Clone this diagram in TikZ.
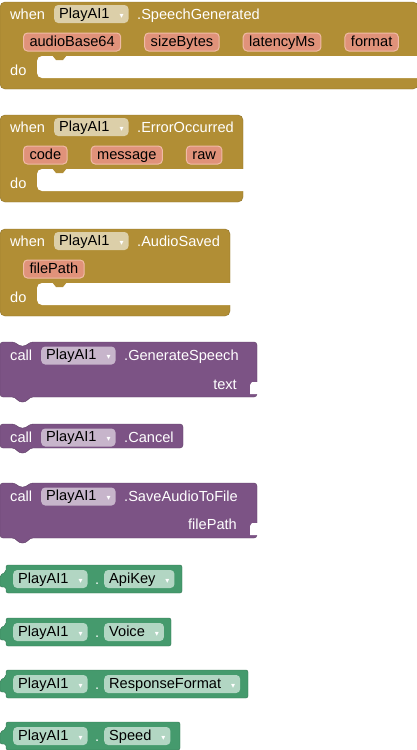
\documentclass[tikz,border=0pt]{standalone}
\usepackage{fontspec}
\setmainfont{Liberation Sans}
\newfontfamily\symb{DejaVu Sans}
\usetikzlibrary{positioning}
\definecolor{evtc}{HTML}{B18E35}
\definecolor{evtline}{HTML}{8E7129}
\definecolor{evtfld}{HTML}{DCCFA9}
\definecolor{parc}{HTML}{E0927A}
\definecolor{parline}{HTML}{F0BBA6}
\definecolor{procc}{HTML}{7C5385}
\definecolor{procline}{HTML}{5F3F66}
\definecolor{procfld}{HTML}{C7B5CB}
\definecolor{getc}{HTML}{459A6D}
\definecolor{getline}{HTML}{347553}
\definecolor{getfld}{HTML}{B2D6C3}
\newcommand\ddarrow{\hspace{10pt}{\symb\fontsize{8}{8}\selectfont\textcolor{white}{▾}}}
\tikzset{
  blk/.style={font=\fontsize{14.6}{16}\selectfont},
  lbl/.style={blk, text=white, inner sep=0pt, anchor=base west},
  fld/.style={blk, rounded corners=4pt, minimum height=18pt, inner xsep=5pt, inner ysep=0pt,
    text height=11pt, text depth=3pt, anchor=west},
  par/.style={blk, fill=parc, draw=parline, line width=1pt, rounded corners=4pt, minimum height=18pt,
    inner xsep=6pt, inner ysep=0pt, text height=11pt, text depth=3pt, anchor=west},
}
\begin{document}
\begin{tikzpicture}[x=1pt,y=-1pt]
  \useasboundingbox (0,0) rectangle (417,750);
  % event blocks
  \foreach \i/\y/\w/\ev in {1/2/418/SpeechGenerated,2/115/243/ErrorOccurred,3/229/230/AudioSaved} {
    \filldraw[fill=evtc, draw=evtline, rounded corners=5pt] (0,\y) rectangle (\w,\y+87);
    \fill[white, rounded corners=5pt] (37,\y+54) rectangle (\w+8,\y+76);
    \fill[evtc] (52,\y+53) -- (67,\y+53) -- (63,\y+58) -- (56,\y+58) -- cycle;
    \node[lbl] (when\i) at (10,\y+17.5) {when};
    \node[fld, fill=evtfld] (comp\i) at (54,\y+12) {PlayAI1\ddarrow};
    \node[lbl] (ev\i) at (137,\y+17.5) {.\ev};
    \node[lbl] (do\i) at (10,\y+73) {do};
  }
  \node[par] (audio) at (23,42) {audioBase64};
  \node[par, right=23pt of audio] (size) {sizeBytes};
  \node[par, right=23pt of size] (latency) {latencyMs};
  \node[par, right=23pt of latency] (format) {format};
  \node[par] (code) at (23,155) {code};
  \node[par, right=23pt of code] (message) {message};
  \node[par, right=23pt of message] (raw) {raw};
  \node[par] (savedpath) at (23,269) {filePath};
  % method calls
  \foreach \i/\y/\w/\h/\m in {1/342/257/55/GenerateSpeech,2/424/183/24/Cancel,3/483/257/55/SaveAudioToFile} {
    \filldraw[fill=procc, draw=procline, rounded corners=3pt] (0,\y) -- (15,\y) -- (19,\y+4) -- (26,\y+4)
      -- (30,\y) -- (\w,\y) -- (\w,\y+\h) -- (30,\y+\h) -- (26,\y+\h+5) -- (19,\y+\h+5) -- (15,\y+\h)
      -- (0,\y+\h) -- cycle;
    \node[lbl] (call\i) at (10,\y+18.5) {call};
    \node[fld, fill=procfld] (pcomp\i) at (41,\y+13.5) {PlayAI1\ddarrow};
    \node[lbl] (meth\i) at (124,\y+18.5) {.\m};
  }
  \node[lbl, anchor=base east] (textarg) at (237,389) {text};
  \fill[white] (258,382) -- (252,382) -- (250,385) -- (250,394) -- (258,394) -- cycle;
  \node[lbl, anchor=base east] (patharg) at (237,529) {filePath};
  \fill[white] (258,523) -- (252,523) -- (250,526) -- (250,535) -- (258,535) -- cycle;
  % getters
  \foreach \i/\y/\w/\p in {1/565/182/ApiKey,2/618/171/Voice,3/670/248/ResponseFormat,4/722/180/Speed} {
    \filldraw[fill=getc, draw=getline, rounded corners=2pt] (6,\y) -- (\w,\y) -- (\w,\y+28) -- (6,\y+28)
      -- (6,\y+22) -- (0,\y+22) -- (0,\y+10) -- (6,\y+7) -- cycle;
    \node[fld, fill=getfld] (gcomp\i) at (13,\y+14) {PlayAI1\ddarrow};
    \node[lbl] (gdot\i) at (95,\y+19.5) {.};
    \node[fld, fill=getfld] (gprop\i) at (104,\y+14) {\p\ddarrow};
  }
\end{tikzpicture}
\end{document}
